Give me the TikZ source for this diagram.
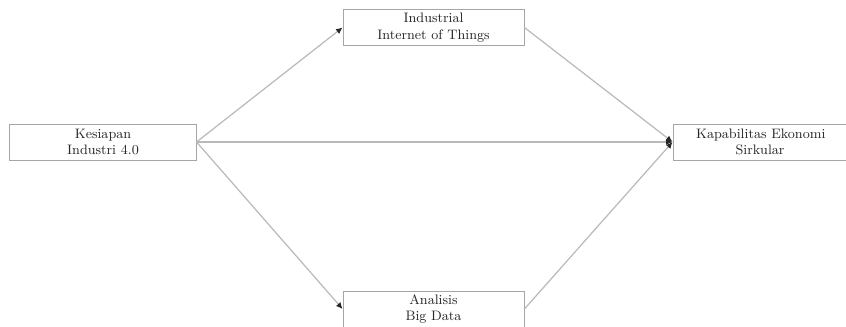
\documentclass[tikz,border=0pt]{standalone}
\usepackage{tikz}
\usetikzlibrary{positioning}
\usetikzlibrary{arrows.meta}

\tikzset{
varbox/.style={draw=gray!70,line width=0.6pt,align=center,inner sep=1pt,
minimum height=8.3mm,font=\small,text=black!85},
path/.style={-{Latex[length=1.5mm,width=1.4mm,black!85]},gray!55,line width=0.8pt}
}

\begin{document}
\begin{tikzpicture}[x=0.0231cm,y=-0.0231cm]
\useasboundingbox(0,0)rectangle(846,326);
\node[varbox,minimum width=43mm](KI)at(103,142){Kesiapan\\Industri 4.0};
\node[varbox,minimum width=41.8mm](IIoT)at(433.5,27.5){Industrial\\Internet of Things};
\node[varbox,minimum width=41.8mm](ABD)at(433.5,309){Analisis\\Big Data};
\node[varbox,minimum width=40.2mm](KEK)at(760,142){\hspace{1pt}Kapabilitas Ekonomi\\Sirkular};

\draw[path](KI.east)--(IIoT.west);
\draw[path](KI.east)--(ABD.west);
\draw[path](KI.east)--(KEK.west);
\draw[path](IIoT.east)--(KEK.west);
\draw[path](ABD.east)--(KEK.west);
\end{tikzpicture}
\end{document}
